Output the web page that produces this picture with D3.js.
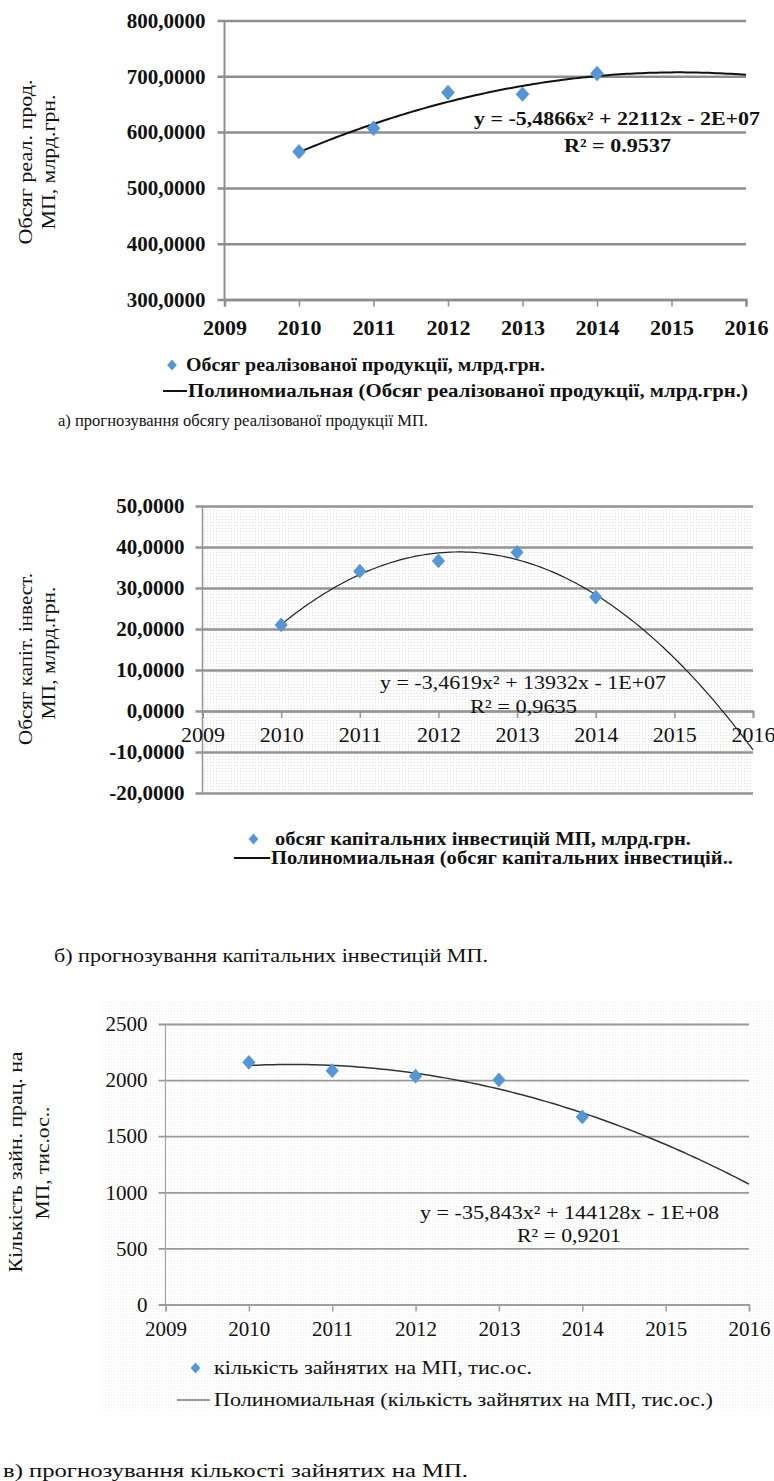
<!DOCTYPE html>
<html>
<head>
<meta charset="utf-8">
<script src="https://cdn.jsdelivr.net/npm/d3@7"></script>
<style>
  html, body { margin: 0; padding: 0; background: #fff; }
  svg { display: block; }
  text { font-family: "Liberation Serif", "DejaVu Serif", serif; fill: #111; }
</style>
</head>
<body>
<svg id="c" width="774" height="1481"></svg>
<script>
// ---------------- DATA ----------------
const years = [2010, 2011, 2012, 2013, 2014];
const xTicks = [2009, 2010, 2011, 2012, 2013, 2014, 2015, 2016];
const forecastEnd = 2016;

const salesValues = [565, 607, 671, 668, 705];          // млрд.грн.
const investValues = [21.0, 34.1, 36.6, 38.7, 27.8];     // млрд.грн.
const employedValues = [2158, 2084, 2035, 2002, 1672];   // тис.ос.

const salesTicks = [300, 400, 500, 600, 700, 800];
const investTicks = [-20, -10, 0, 10, 20, 30, 40, 50];
const employedTicks = [0, 500, 1000, 1500, 2000, 2500];

const salesTitle = ["Обсяг реал. прод.", "МП, млрд.грн."];
const investTitle = ["Обсяг капіт. інвест.", "МП, млрд.грн."];
const employedTitle = ["Кількість зайн. прац. на", "МП, тис.ос.."];

const salesEq = ["y = -5,4866x² + 22112x - 2E+07", "R² = 0.9537"];
const investEq = ["y = -3,4619x² + 13932x - 1E+07", "R² = 0,9635"];
const employedEq = ["y = -35,843x² + 144128x - 1E+08", "R² = 0,9201"];

const salesLegend = ["Обсяг реалізованої продукції, млрд.грн.", "Полиномиальная (Обсяг реалізованої продукції, млрд.грн.)"];
const investLegend = ["обсяг капітальних інвестицій МП, млрд.грн.", "Полиномиальная (обсяг капітальних інвестицій.."];
const employedLegend = ["кількість зайнятих на МП, тис.ос.", "Полиномиальная (кількість зайнятих на МП, тис.ос.)"];

const captions = [
  "а) прогнозування обсягу реалізованої продукції МП.",
  "б) прогнозування капітальних інвестицій МП.",
  "в) прогнозування кількості зайнятих на МП."
];

// ---------------- HELPERS ----------------
const locale = d3.formatLocale({decimal: ",", thousands: " ", grouping: [3], currency: ["", ""], minus: "-"});
const fmt4 = locale.format(".4f");
const fmt0 = locale.format("d");

function quadFit(xs, ys) {
  const m = d3.mean(xs);
  const t = xs.map(v => v - m);
  const S = k => d3.sum(t, v => Math.pow(v, k));
  const Sy = k => d3.sum(t, (v, i) => Math.pow(v, k) * ys[i]);
  const A = [[S(0), S(1), S(2), Sy(0)], [S(1), S(2), S(3), Sy(1)], [S(2), S(3), S(4), Sy(2)]];
  for (let i = 0; i < 3; i++) {
    for (let j = i + 1; j < 3; j++) {
      const f = A[j][i] / A[i][i];
      for (let k = i; k < 4; k++) A[j][k] -= f * A[i][k];
    }
  }
  const c = [0, 0, 0];
  for (let i = 2; i >= 0; i--) {
    let s = A[i][3];
    for (let k = i + 1; k < 3; k++) s -= A[i][k] * c[k];
    c[i] = s / A[i][i];
  }
  return x => c[0] + c[1] * (x - m) + c[2] * (x - m) * (x - m);
}

const svg = d3.select("#c");
const defs = svg.append("defs");
function dotPattern(id, color, step) {
  const p = defs.append("pattern").attr("id", id).attr("patternUnits", "userSpaceOnUse")
    .attr("width", step).attr("height", step);
  p.append("rect").attr("width", step).attr("height", step).attr("fill", "#fff");
  p.append("rect").attr("x", 0).attr("y", 0).attr("width", 1).attr("height", 1).attr("fill", color);
}
dotPattern("dots2", "#e0e0e0", 3);
dotPattern("dots3", "#efefef", 3);

function addText(g, str, x, y, opts) {
  const t = g.append("text").attr("x", x).attr("y", y).attr("dy", "0.35em")
    .attr("font-size", opts.size).attr("font-weight", opts.bold ? "bold" : "normal")
    .attr("text-anchor", opts.anchor || "start").text(str);
  if (opts.len) t.attr("textLength", opts.len).attr("lengthAdjust", "spacingAndGlyphs");
  if (opts.rotate) t.attr("transform", `rotate(-90, ${x}, ${y})`);
  if (opts.fill) t.style("fill", opts.fill);
  return t;
}

function drawChart(cfg) {
  const g = svg.append("g");
  if (cfg.bg) {
    g.append("rect").attr("x", cfg.bg[0]).attr("y", cfg.bg[1]).attr("width", cfg.bg[2]).attr("height", cfg.bg[3])
      .attr("fill", `url(#${cfg.bgPattern})`);
  }
  const x = d3.scaleLinear().domain([xTicks[0], xTicks[xTicks.length - 1]]).range([cfg.left, cfg.right]);
  const y = d3.scaleLinear().domain([cfg.yTicks[0], cfg.yTicks[cfg.yTicks.length - 1]]).range([cfg.bottom, cfg.top]);

  // gridlines + y tick labels
  const stub = 7;
  const ya = g.append("g").attr("transform", `translate(${cfg.left - stub},0)`)
    .call(d3.axisLeft(y).tickValues(cfg.yTicks).tickFormat(cfg.yFormat)
      .tickSize(-(cfg.right - cfg.left + stub)).tickPadding(cfg.yPad));
  ya.select(".domain").remove();
  ya.selectAll(".tick line").attr("stroke", cfg.gridColor).attr("stroke-width", cfg.gridWidth);
  ya.selectAll(".tick text").attr("font-family", "Liberation Serif, serif")
    .attr("font-size", cfg.yFont).attr("font-weight", cfg.yBold ? "bold" : "normal").style("fill", "#111");

  // vertical axis line
  g.append("line").attr("x1", cfg.left).attr("x2", cfg.left).attr("y1", cfg.top).attr("y2", cfg.bottom)
    .attr("stroke", cfg.axisColor).attr("stroke-width", cfg.axisWidth);

  // x axis
  const xa = g.append("g").attr("transform", `translate(0,${y(cfg.xAxisAt)})`)
    .call(d3.axisBottom(x).tickValues(xTicks).tickFormat(d3.format("d")).tickSize(7).tickSizeOuter(7).tickPadding(cfg.xPad));
  xa.select(".domain").attr("stroke", cfg.axisColor).attr("stroke-width", cfg.xAxisWidth);
  xa.selectAll(".tick line").attr("stroke", cfg.axisColor).attr("stroke-width", 1.5);
  xa.selectAll(".tick text").attr("font-family", "Liberation Serif, serif")
    .attr("font-size", cfg.xFont).attr("font-weight", cfg.xBold ? "bold" : "normal").style("fill", "#111");

  // trend line
  const f = quadFit(years, cfg.values);
  const pts = d3.range(years[0], forecastEnd + 1e-9, 0.05).map(v => [v, f(v)]);
  g.append("path").datum(pts)
    .attr("d", d3.line().x(d => x(d[0])).y(d => y(d[1])).curve(d3.curveLinear))
    .attr("fill", "none").attr("stroke", cfg.trendColor).attr("stroke-width", cfg.trendWidth);

  // points
  const sym = d3.symbol().type(d3.symbolDiamond2).size(cfg.markerSize);
  g.selectAll("path.pt").data(years.map((yr, i) => [yr, cfg.values[i]])).join("path")
    .attr("class", "pt").attr("d", sym)
    .attr("transform", d => `translate(${x(d[0])},${y(d[1])}) scale(1,1.12)`)
    .attr("fill", "#5596d6");

  // equation
  addText(g, cfg.eq[0], cfg.eqPos[0], cfg.eqPos[1], {size: cfg.eqFont, bold: cfg.eqBold, len: cfg.eqPos[2]});
  addText(g, cfg.eq[1], cfg.r2Pos[0], cfg.r2Pos[1], {size: cfg.eqFont, bold: cfg.eqBold, len: cfg.r2Pos[2]});

  // y title
  addText(g, cfg.title[0], cfg.t1[0], cfg.t1[1], {size: cfg.titleFont, anchor: "middle", rotate: true, len: cfg.t1[2]});
  addText(g, cfg.title[1], cfg.t2[0], cfg.t2[1], {size: cfg.titleFont, anchor: "middle", rotate: true, len: cfg.t2[2]});

  // legend
  const L = cfg.legend;
  g.append("path").attr("d", d3.symbol().type(d3.symbolDiamond2).size(60)())
    .attr("transform", `translate(${L.diamond[0]},${L.diamond[1]}) scale(1,1.12)`).attr("fill", "#5596d6");
  addText(g, cfg.legendText[0], L.t1[0], L.t1[1], {size: L.font, bold: L.bold, len: L.t1[2]});
  g.append("line").attr("x1", L.line[0]).attr("x2", L.line[1]).attr("y1", L.line[2]).attr("y2", L.line[2])
    .attr("stroke", L.lineColor).attr("stroke-width", 2);
  addText(g, cfg.legendText[1], L.t2[0], L.t2[1], {size: L.font, bold: L.bold, len: L.t2[2]});

  // caption
  addText(g, cfg.caption, cfg.capPos[0], cfg.capPos[1], {size: cfg.capFont, len: cfg.capPos[2]});
}

// ---------------- CHART A ----------------
drawChart({
  values: salesValues, yTicks: salesTicks, yFormat: fmt4,
  left: 224.5, right: 746, top: 20.5, bottom: 299.5, xAxisAt: 300,
  gridColor: "#8e8e8e", gridWidth: 2.5, axisColor: "#8e8e8e", axisWidth: 2, xAxisWidth: 2.5,
  yFont: 21, yBold: true, yPad: 12, xFont: 22, xBold: true, xPad: 13,
  trendColor: "#111", trendWidth: 2, markerSize: 120,
  eq: salesEq, eqBold: true, eqFont: 19, eqPos: [474, 118, 286], r2Pos: [564, 145, 107],
  title: salesTitle, titleFont: 19, t1: [25, 162, 165], t2: [48, 162, 135],
  legendText: salesLegend,
  legend: {diamond: [172, 365], t1: [186, 365, 359], line: [163, 187, 391], t2: [188, 391, 560], font: 18, bold: true, lineColor: "#111"},
  caption: captions[0], capPos: [58, 420, 370], capFont: 17
});

// ---------------- CHART B ----------------
drawChart({
  values: investValues, yTicks: investTicks, yFormat: fmt4,
  left: 202.5, right: 753, top: 506, bottom: 793, xAxisAt: 0,
  bg: [202.5, 506, 550.5, 287], bgPattern: "dots2",
  gridColor: "#959595", gridWidth: 2.5, axisColor: "#959595", axisWidth: 1.5, xAxisWidth: 2,
  yFont: 21, yBold: true, yPad: 11, xFont: 22, xBold: false, xPad: 8,
  trendColor: "#222", trendWidth: 1.2, markerSize: 110,
  eq: investEq, eqBold: false, eqFont: 19, eqPos: [380, 682, 286], r2Pos: [470, 706, 107],
  title: investTitle, titleFont: 19, t1: [25, 659, 172], t2: [48, 653, 133],
  legendText: investLegend,
  legend: {diamond: [253.5, 839], t1: [275, 839, 416], line: [234, 270, 858], t2: [271, 858, 462], font: 18, bold: true, lineColor: "#111"},
  caption: captions[1], capPos: [54, 955, 434], capFont: 19
});

// ---------------- CHART C ----------------
drawChart({
  values: employedValues, yTicks: employedTicks, yFormat: fmt0,
  left: 165.5, right: 749, top: 1024, bottom: 1304.5, xAxisAt: 0,
  bg: [100, 1000, 674, 412], bgPattern: "dots3",
  gridColor: "#9a9a9a", gridWidth: 1.8, axisColor: "#a0a0a0", axisWidth: 1.2, xAxisWidth: 1.5,
  yFont: 21, yBold: false, yPad: 11, xFont: 21, xBold: false, xPad: 10,
  trendColor: "#333", trendWidth: 1.5, markerSize: 110,
  eq: employedEq, eqBold: false, eqFont: 19, eqPos: [420, 1212, 299], r2Pos: [517, 1235, 104],
  title: employedTitle, titleFont: 19, t1: [15, 1162, 221], t2: [42, 1163, 113],
  legendText: employedLegend,
  legend: {diamond: [195.5, 1368], t1: [214, 1368, 318], line: [177, 210, 1400], t2: [214, 1400, 499], font: 18, bold: false, lineColor: "#999"},
  caption: captions[2], capPos: [3, 1470, 465], capFont: 19
});
</script>
</body>
</html>
